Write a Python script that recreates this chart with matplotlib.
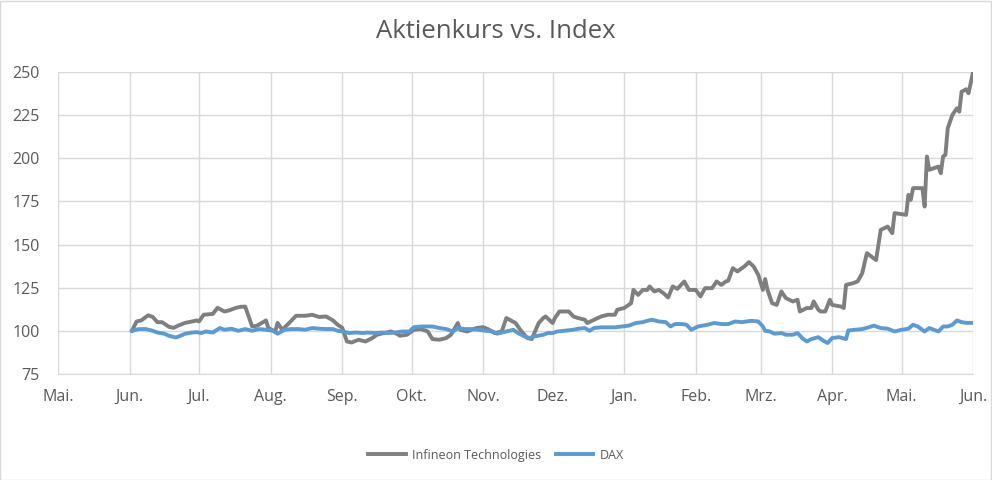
import pandas as pd
import matplotlib.pyplot as plt
from matplotlib.patches import Rectangle

plt.rcParams['font.family'] = ['Open Sans', 'DejaVu Sans']

start = pd.Timestamp('2020-05-01')

# Infineon Technologies, indexiert (Start = 100); Tage seit 1. Mai
inf_tage = [32, 34, 36, 39, 41, 43, 45, 48, 50, 52, 55, 58, 60, 61, 63, 67, 69, 72, 74, 77,
            79, 81, 84, 86, 90, 91, 94, 95, 97, 100, 103, 107, 110, 113, 116, 119, 121, 123,
            125, 127, 130, 133, 136, 138, 141, 144, 146, 148, 151, 154, 157, 160, 162, 165,
            168, 170, 173, 174, 177, 181, 184, 186, 189, 192, 194, 198, 200, 203, 205, 208,
            210, 211, 214, 215, 217, 221, 223, 225, 228, 229, 232, 235, 238, 241, 242, 245,
            248, 249, 251, 253, 255, 256, 258, 260, 262, 264, 266, 268, 271, 273, 276, 278,
            280, 283, 285, 287, 289, 290, 292, 294, 297, 299, 301, 303, 305, 306, 307, 309,
            311, 313, 315, 318, 320, 321, 324, 326, 327, 329, 330, 332, 334, 335, 339, 340,
            341, 344, 346, 348, 350, 354, 356, 359, 361, 362, 367, 368, 369, 370, 374, 375,
            376, 377, 381, 382, 383, 384, 385, 387, 389, 390, 391, 393, 394, 396]
inf_wert = [100, 105.4, 106, 109, 108, 105, 105, 102.3, 101.7, 103, 104.6, 105.4, 106, 105.4,
            109.3, 109.8, 113.3, 111.2, 111.8, 113.3, 113.9, 114, 102.5, 102.9, 106, 101.6,
            99.6, 104.6, 100.6, 104.5, 108.7, 108.7, 109.3, 108, 108.3, 106, 103.5, 101.7,
            93.8, 93.2, 94.8, 93.8, 95.8, 97.7, 98.7, 99.6, 98.7, 97.1, 97.7, 100.6, 101,
            99.6, 95.2, 94.8, 95.8, 97.7, 104.5, 100.6, 99.6, 101.6, 102.1, 101, 98.7, 99.6,
            107.4, 104.5, 100.6, 95.8, 95.2, 104.5, 107.4, 108.3, 104.5, 107.4, 111.2, 111.2,
            108.3, 107.4, 106.4, 104.5, 106.4, 108.3, 109.3, 109.3, 112.2, 113.2, 116, 123.7,
            120.8, 123.7, 123.7, 125.7, 122.8, 123.7, 121.8, 119.3, 125.7, 124.3, 128.6,
            123.7, 123.7, 119.9, 124.7, 124.7, 128.6, 126.6, 128.6, 129, 136.3, 134.4, 137.3,
            139.8, 137.3, 132.5, 123.7, 130, 123.7, 116, 115, 122.8, 118.9, 117, 118, 111.2,
            113.2, 113.2, 117, 112.2, 111.2, 111.2, 118, 115, 114, 113.2, 126.6, 127.6, 128.6,
            133.4, 145, 141, 158.5, 160.4, 156.6, 168.2, 167.2, 178.8, 175.9, 182.7, 182.7,
            172, 201, 193.3, 195.2, 191.3, 201, 202, 217.4, 225.1, 229, 227, 238.6, 240,
            237.7, 250.2]

# DAX, indexiert (Start = 100)
dax_tage = [32, 35, 38, 41, 43, 46, 48, 51, 53, 55, 58, 60, 62, 64, 67, 70, 72, 75, 78, 81,
            84, 87, 90, 93, 95, 98, 101, 104, 107, 110, 113, 116, 119, 121, 123, 126, 129,
            132, 134, 137, 140, 143, 146, 149, 152, 154, 157, 160, 162, 165, 168, 171, 173,
            176, 179, 182, 185, 188, 190, 194, 197, 199, 202, 204, 206, 210, 212, 214, 216,
            219, 223, 225, 228, 230, 232, 235, 238, 241, 244, 247, 250, 253, 255, 257, 260,
            263, 265, 267, 270, 272, 274, 277, 279, 281, 284, 287, 290, 293, 296, 298, 300,
            303, 305, 306, 308, 310, 313, 315, 318, 320, 322, 324, 326, 329, 331, 333, 335,
            338, 341, 342, 345, 348, 351, 353, 356, 359, 362, 365, 368, 370, 372, 375, 377,
            381, 383, 385, 387, 389, 391, 393, 396]
dax_wert = [100, 101, 101, 100, 99, 98.3, 97.1, 96.1, 97.1, 98.3, 99, 99.2, 98.7, 99.6, 99,
            101.6, 100.6, 101.2, 100, 101, 100, 101, 100.6, 100, 98.3, 100.6, 101, 101, 100.6,
            101.6, 101.2, 101, 101, 100, 99.6, 98.7, 99, 98.7, 99, 98.7, 99, 98.7, 99, 99.6,
            99.6, 102.1, 102.5, 102.5, 102.5, 101.6, 101, 99.6, 101.6, 101, 101, 100.6, 100,
            99.6, 98.3, 99.6, 100.6, 98.7, 96.7, 95.8, 96.7, 97.7, 98.7, 98.7, 99.6, 100,
            100.6, 101.2, 101.6, 100, 101.6, 102, 102, 102, 102.5, 103, 104.5, 105, 105.8,
            106.4, 105.4, 105, 102.5, 103.9, 103.9, 103.5, 100.6, 102.5, 103, 103.5, 104.5,
            103.9, 103.9, 105.4, 105, 105.4, 105.8, 105.4, 102.5, 100, 99.6, 98.3, 98.7, 97.7,
            97.7, 98.7, 95.8, 93.8, 95.2, 96.3, 94.4, 92.9, 95.8, 96.3, 95.2, 100.2, 100.6,
            101, 102.1, 103, 101.6, 101.2, 99.6, 100.6, 101.2, 103.5, 102.5, 99.6, 101.6,
            99.6, 102.5, 102.5, 103.5, 106, 105, 104.6, 104.6]

monate = ['Mai.', 'Jun.', 'Jul.', 'Aug.', 'Sep.', 'Okt.', 'Nov.', 'Dez.',
          'Jan.', 'Feb.', 'Mrz.', 'Apr.', 'Mai.', 'Jun.']

inf_datum = start + pd.to_timedelta(inf_tage, unit='D')
dax_datum = start + pd.to_timedelta(dax_tage, unit='D')
monatsanfang = pd.date_range(start, periods=len(monate), freq='MS')

fig = plt.figure(figsize=(9.92, 4.8), dpi=100)
ax = fig.add_axes([0.0585, 0.221, 0.9225, 0.629])

ax.plot(inf_datum, inf_wert, color='#7f7f7f', lw=2.8, label='Infineon Technologies',
        solid_joinstyle='round', zorder=3)
ax.plot(dax_datum, dax_wert, color='#5b9bd5', lw=2.8, label='DAX',
        solid_joinstyle='round', zorder=3)

ax.set_xlim(monatsanfang[0], monatsanfang[-1])
ax.set_ylim(75, 250)
ax.set_yticks(range(75, 251, 25))
ax.set_xticks(monatsanfang)
ax.set_xticklabels(monate)

ax.grid(True, color='#d9d9d9', lw=1)
ax.set_axisbelow(True)
for s in ['top', 'right', 'left']:
    ax.spines[s].set_visible(False)
ax.spines['bottom'].set_color('#d9d9d9')
ax.tick_params(length=0, colors='#595959', labelsize=11.5)
ax.tick_params(axis='x', pad=11)
ax.tick_params(axis='y', pad=13)

fig.suptitle('Aktienkurs vs. Index', y=0.96, fontsize=18.5, color='#595959')

fig.legend(loc='center', bbox_to_anchor=(0.5, 0.052), ncol=2, frameon=False,
           fontsize=9, labelcolor='#595959', handlelength=3.0, handletextpad=0.5,
           columnspacing=1.2)

fig.patches.append(Rectangle((0.0005, 0.001), 0.998, 0.997, transform=fig.transFigure,
                             fill=False, edgecolor='#d9d9d9', lw=1))

fig.savefig('out.png', dpi=100)
